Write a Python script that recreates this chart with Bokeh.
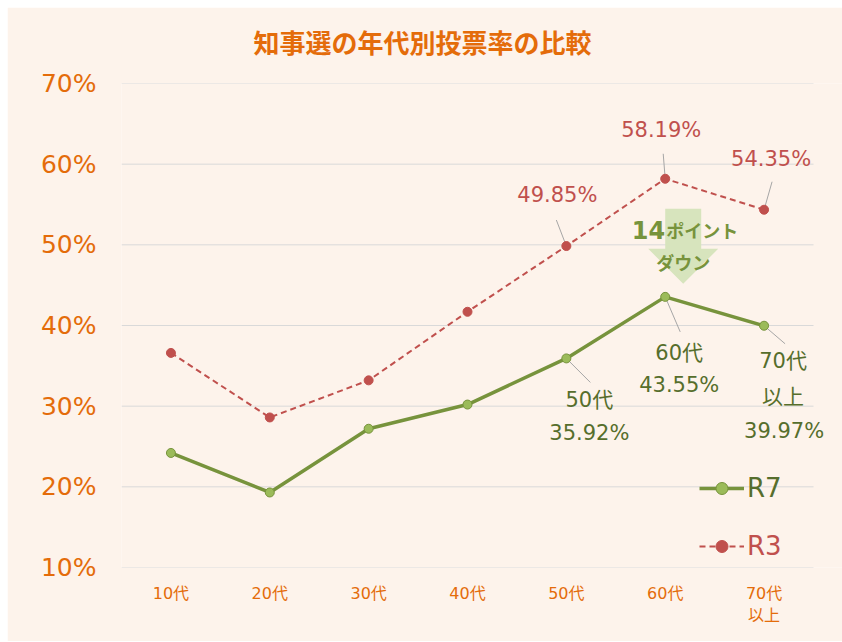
from bokeh.plotting import figure
from bokeh.models import Range1d, FixedTicker, Legend, LegendItem, ColumnDataSource, LabelSet, Title
from bokeh.core.properties import value
from bokeh.embed import file_html
from bokeh.resources import INLINE

# ---- data ----
categories = ["10代", "20代", "30代", "40代", "50代", "60代", "70代\n以上"]
r7 = [24.2, 19.3, 27.2, 30.2, 35.92, 43.55, 39.97]
r3 = [36.6, 28.6, 33.2, 41.7, 49.85, 58.19, 54.35]
y_ticks = [10, 20, 30, 40, 50, 60, 70]
y_tick_labels = ["10%", "20%", "30%", "40%", "50%", "60%", "70%"]
labelled_idx = [4, 5, 6]
r7_label_prefix = [["50代"], ["60代"], ["70代", "以上"]]
title_text = "知事選の年代別投票率の比較"
arrow_text_num = "14"
arrow_text_a = "ポイント"
arrow_text_b = "ダウン"

# ---- styles ----
BG = "#FDF3EB"
ORANGE = "#E46C0A"
GREEN = "#77933C"
GREEN_LIGHT = "#9BBB59"
GREEN_DARK = "#566E2C"
RED = "#C0504D"
NUMFONT = "DejaVu Sans, Noto Sans CJK JP"
CJKFONT = "Noto Sans CJK JP"

W, H = 835, 634
ML, MR, MT, MB = 114, 0, 76, 74
CAT_PX = 692 / 7           # pixel width of one category slot
xs = list(range(len(categories)))
x_lo, x_hi = -0.5, len(categories) - 0.5
x_end = x_lo + (W - ML - MR) / CAT_PX   # extra room on the right for labels

p = figure(width=W, height=H, output_backend="svg", toolbar_location=None,
           x_range=Range1d(x_lo, x_end), y_range=Range1d(10, 70),
           min_border_left=ML, min_border_right=MR, min_border_top=MT, min_border_bottom=MB,
           background_fill_color=BG, border_fill_color=BG, outline_line_color=None)
p.margin = (7, 0, 0, 7)

px_x = CAT_PX
px_y = (H - MT - MB) / 60.0

# spacer between the frame and the title
p.add_layout(Title(text=" ", text_font_size="18px", standoff=0), "above")

p.title.text = title_text
p.title.align = "left"
p.title.offset = 132
p.title.vertical_align = "top"
p.title.text_font = CJKFONT
p.title.text_font_size = "26px"
p.title.text_font_style = "bold"
p.title.text_color = ORANGE
p.title.standoff = 0

# horizontal gridlines only across the category area
p.xgrid.visible = False
p.ygrid.visible = False
p.segment(x0=[x_lo] * len(y_ticks), x1=[x_hi] * len(y_ticks), y0=y_ticks, y1=y_ticks,
          line_color="#D9D9D9", line_width=1)

p.yaxis.ticker = FixedTicker(ticks=y_ticks)
p.yaxis.major_label_overrides = {t: l for t, l in zip(y_ticks, y_tick_labels)}
p.xaxis.ticker = FixedTicker(ticks=xs)
p.xaxis.major_label_overrides = {i: c for i, c in zip(xs, categories)}
for ax in (p.xaxis, p.yaxis):
    ax.axis_line_color = None
    ax.major_tick_line_color = None
    ax.minor_tick_line_color = None
    ax.major_label_text_color = ORANGE
p.yaxis.major_label_text_font = NUMFONT
p.yaxis.major_label_text_font_size = "25px"
p.yaxis.major_label_standoff = 19
p.xaxis.major_label_text_font = NUMFONT
p.xaxis.major_label_text_font_size = "16px"
p.xaxis.major_label_standoff = 10

# arrow shape (between the two 60代 points)
ai = 5
acx = ai + 18 / px_x
a_top = r3[ai] - 30 / px_y
a_tip = r7[ai] + 13 / px_y
a_base = a_top - 40 / px_y
sw, hw = 18 / px_x, 35 / px_x
p.patch([acx - sw, acx + sw, acx + sw, acx + hw, acx, acx - hw, acx - sw, acx - sw],
        [a_top, a_top, a_base, a_base, a_tip, a_base, a_base, a_top],
        fill_color="#D7E4BD", line_color=None)

# leader lines
r3_lead = [(-10, 26), (-2, 25), (8, 28)]
r7_lead = [(24, -24), (15, -35), (21, -18)]
p.segment(x0=[xs[i] for i in labelled_idx], y0=[r3[i] for i in labelled_idx],
          x1=[xs[i] + d[0] / px_x for i, d in zip(labelled_idx, r3_lead)],
          y1=[r3[i] + d[1] / px_y for i, d in zip(labelled_idx, r3_lead)],
          line_color="#A6A6A6", line_width=1)
p.segment(x0=[xs[i] for i in labelled_idx], y0=[r7[i] for i in labelled_idx],
          x1=[xs[i] + d[0] / px_x for i, d in zip(labelled_idx, r7_lead)],
          y1=[r7[i] + d[1] / px_y for i, d in zip(labelled_idx, r7_lead)],
          line_color="#A6A6A6", line_width=1)

# series
r3_line = p.line(xs, r3, line_color=RED, line_width=2, line_dash="6 4")
r3_pts = p.scatter(xs, r3, size=9, fill_color=RED, line_color=RED)
r7_line = p.line(xs, r7, line_color=GREEN, line_width=3.5)
r7_pts = p.scatter(xs, r7, size=9, fill_color=GREEN_LIGHT, line_color=GREEN, line_width=1)

# data labels
r3_src = ColumnDataSource(dict(
    x=[xs[i] for i in labelled_idx], y=[r3[i] for i in labelled_idx],
    t=[f"{r3[i]:.2f}%" for i in labelled_idx],
    dx=[-9, -4, 7], dy=[51, 49, 51]))
p.add_layout(LabelSet(x="x", y="y", text="t", source=r3_src, x_offset="dx", y_offset="dy",
                      text_align="center", text_baseline="middle", text_color=RED,
                      text_font=value(NUMFONT), text_font_size="21px"))

# R7 labels: one row per text line, each line centred
r7_line_offsets = [[(23, -42), (23, -75)],
                   [(14, -56), (14, -88)],
                   [(19, -35), (19, -71), (20, -105)]]
lx, ly, lt, ldx, ldy = [], [], [], [], []
for k, i in enumerate(labelled_idx):
    lines = r7_label_prefix[k] + [f"{r7[i]:.2f}%"]
    for txt, (dx, dy) in zip(lines, r7_line_offsets[k]):
        lx.append(xs[i]); ly.append(r7[i]); lt.append(txt); ldx.append(dx); ldy.append(dy)
r7_src = ColumnDataSource(dict(x=lx, y=ly, t=lt, dx=ldx, dy=ldy))
p.add_layout(LabelSet(x="x", y="y", text="t", source=r7_src, x_offset="dx", y_offset="dy",
                      text_align="center", text_baseline="middle", text_color=GREEN_DARK,
                      text_font=value(NUMFONT), text_font_size="21px"))

# arrow texts
p.text([ai], [r7[ai]], text=[arrow_text_num], x_offset=0, y_offset=-67,
       text_align="right", text_baseline="alphabetic", text_color=GREEN,
       text_font=value(NUMFONT), text_font_size="24px", text_font_style="bold")
p.text([ai], [r7[ai]], text=[arrow_text_a], x_offset=1, y_offset=-67,
       text_align="left", text_baseline="alphabetic", text_color=GREEN,
       text_font=value(CJKFONT), text_font_size="18px", text_font_style="bold")
p.text([ai], [r7[ai]], text=[arrow_text_b], x_offset=18, y_offset=-35,
       text_align="center", text_baseline="middle", text_color=GREEN,
       text_font=value(CJKFONT), text_font_size="18px", text_font_style="bold")

# legends
leg7 = Legend(items=[LegendItem(label="R7", renderers=[r7_line, r7_pts])],
              location=(578, 64), label_text_font_size="26px", label_text_color=GREEN_DARK,
              label_text_font=NUMFONT, glyph_width=45, glyph_height=30,
              background_fill_alpha=0, border_line_alpha=0, padding=0, margin=0,
              label_standoff=3)
leg3 = Legend(items=[LegendItem(label="R3", renderers=[r3_line, r3_pts])],
              location=(578, 6), label_text_font_size="26px", label_text_color=RED,
              label_text_font=NUMFONT, glyph_width=45, glyph_height=30,
              background_fill_alpha=0, border_line_alpha=0, padding=0, margin=0,
              label_standoff=3)
p.add_layout(leg7, "center")
p.add_layout(leg3, "center")

open("out.html", "w").write(file_html(p, INLINE))
